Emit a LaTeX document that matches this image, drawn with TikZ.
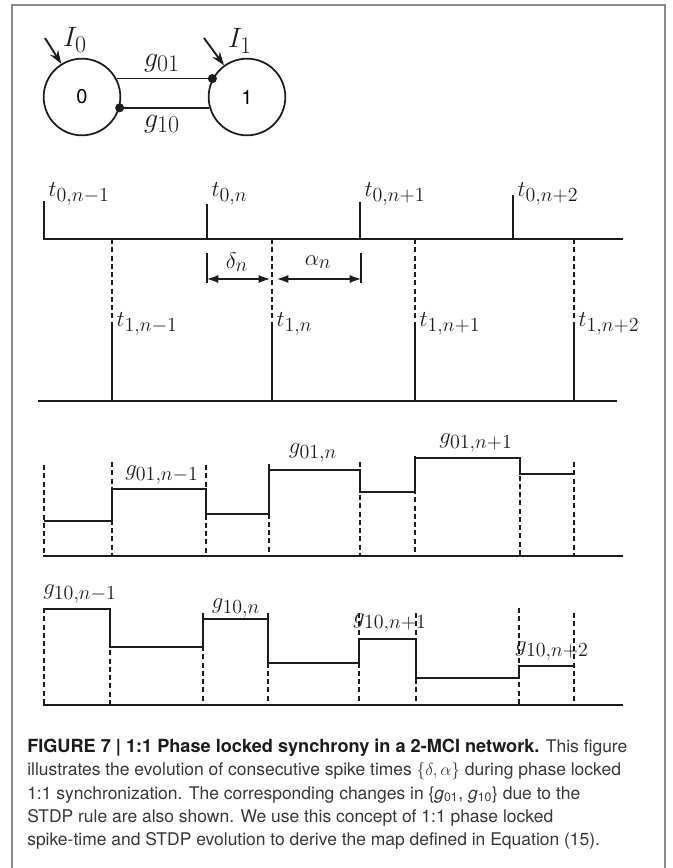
\RequirePackage{fix-cm}
\documentclass[tikz,border=0pt]{standalone}
\usepackage[no-math]{fontspec}
\setsansfont{TeX Gyre Heros}
\usepackage{tikz}
\usetikzlibrary{arrows.meta,positioning}
\definecolor{ink}{HTML}{1C1C1C}
\definecolor{frameGray}{HTML}{8C8C8C}
\definecolor{capGray}{HTML}{363636}
\DeclareMathSizes{17}{17}{15}{11}
\DeclareMathSizes{21}{21}{18}{13}

\begin{document}
\begin{tikzpicture}[
  x=0.75pt,y=-0.75pt,
  font=\fontsize{17}{19}\selectfont,
  neuron/.style={circle,draw=ink,line width=1.3pt,minimum size=57.5pt,inner sep=0pt,font=\sffamily\fontsize{15}{17}\selectfont},
  link/.style={draw=ink,line width=1.3pt},
  input/.style={-{Stealth[length=10pt,width=7pt]},line width=1.4pt,draw=ink},
  axis/.style={line width=2.1pt,draw=ink},
  spike/.style={line width=0.9pt,draw=ink},
  trig/.style={line width=0.9pt,draw=ink,dash pattern=on 3.8pt off 2.4pt},
  gap/.style={{Latex[length=8.5pt,width=6pt]}-{Latex[length=8.5pt,width=6pt]},line width=0.9pt,draw=ink},
  lab/.style={inner sep=1pt,text=ink},
  biglab/.style={lab,font=\fontsize{21}{23}\selectfont},
  caption/.style={inner sep=0pt,align=left,text=capGray,font=\sffamily\fontsize{13.1}{17.4}\selectfont}
]
\useasboundingbox (0,0) rectangle (672,868);
\draw[frameGray,line width=1.4pt] (12,868) -- (12,5) -- (665,5) -- (665,868);

% two coupled neurons
\node[neuron] (n0) at (82,97) {0};
\node[neuron] (n1) at (247,97) {1};
\draw[link] (n0.28) -- (n1.152);
\draw[link] (n0.-16) -- (n1.-164);
\fill[ink] (n1.152) circle (3.4pt);
\fill[ink] (n0.-16) circle (3.4pt);
\coordinate (in0) at (45,38);
\coordinate (in1) at (204,38);
\draw[input] (in0) -- (n0.122);
\draw[input] (in1) -- (n1.126);
\node[biglab] (I0) at (75,40) {$I_0$};
\node[biglab] (I1) at (240,41) {$I_1$};
\node[biglab] (g01) at (162,63) {$g_{01}$};
\node[biglab] (g10) at (162,124) {$g_{10}$};

% spike times
\draw[axis] (43,239) -- (623,239);
\draw[axis] (38,401) -- (617,401);
\foreach \x/\h/\k [count=\i] in {44/201/{n-1},207/204/n,360/202/{n+1},513/195/{n+2}}{
  \draw[spike] (\x,239) -- (\x,\h);
  \node[lab,anchor=west] (t0-\i) at (\x+3,194) {$t_{0,\k}$};
}
\foreach \x/\k [count=\i] in {112/{n-1},272/n,415/{n+1},574/{n+2}}{
  \draw[trig] (\x,239) -- (\x,325);
  \draw[spike] (\x,325) -- (\x,401);
  \node[lab,anchor=west] (t1-\i) at (\x+3,324) {$t_{1,\k}$};
}
\draw[spike] (207,253) -- (207,283);
\draw[spike] (361,253) -- (361,283);
\draw[gap] (207,279) -- (270,279);
\draw[gap] (277,279) -- (361,279);
\node[lab] (delta) at (237,262) {$\delta_n$};
\node[lab] (alpha) at (318,262) {$\alpha_n$};

% g01 evolution
\foreach \x/\h in {44/465,112/462,206/465,269/464,360/462,415/456,520/459,574/462}
  \draw[trig] (\x,\h) -- (\x,556);
\draw[spike] (44,521) -| (112,489) -| (206,514) -| (269,470) -| (360,492) -| (415,458) -| (520,474) -- (574,474);
\draw[axis] (43,556) -- (623,556);
\node[lab] (ga1) at (162,475) {$g_{01,n-1}$};
\node[lab] (ga2) at (313,453) {$g_{01,n}$};
\node[lab] (ga3) at (476,443) {$g_{01,n+1}$};

% g10 evolution
\foreach \x/\h in {44/608,110/609,203/613,268/613,359/613,416/613,519/608,574/613}
  \draw[trig] (\x,\h) -- (\x,705);
\draw[spike] (44,609) -| (110,647) -| (203,619) -| (268,663) -| (359,639) -| (416,678) -| (519,666) -- (574,666);
\draw[axis] (43,705) -- (623,705);
\node[lab] (gb1) at (80,594) {$g_{10,n-1}$};
\node[lab] (gb2) at (236,608) {$g_{10,n}$};
\node[lab] (gb3) at (390,623) {$g_{10,n+1}$};
\node[lab] (gb4) at (552,651) {$g_{10,n+2}$};

\node[caption,anchor=north west] (cap) at (27,739) {{\fontsize{13.6}{17.4}\selectfont\bfseries\color{ink}FIGURE 7 | 1:1 Phase locked synchrony in a 2-MCI network.} This figure\\
illustrates the evolution of consecutive spike times $\{\delta,\alpha\}$ during phase locked\\
1:1 synchronization. The corresponding changes in \{\textit{g}\textsubscript{01}, \textit{g}\textsubscript{10}\} due to the\\
STDP rule are also shown. We use this concept of 1:1 phase locked\\
spike-time and STDP evolution to derive the map defined in Equation (15).};
\end{tikzpicture}
\end{document}
